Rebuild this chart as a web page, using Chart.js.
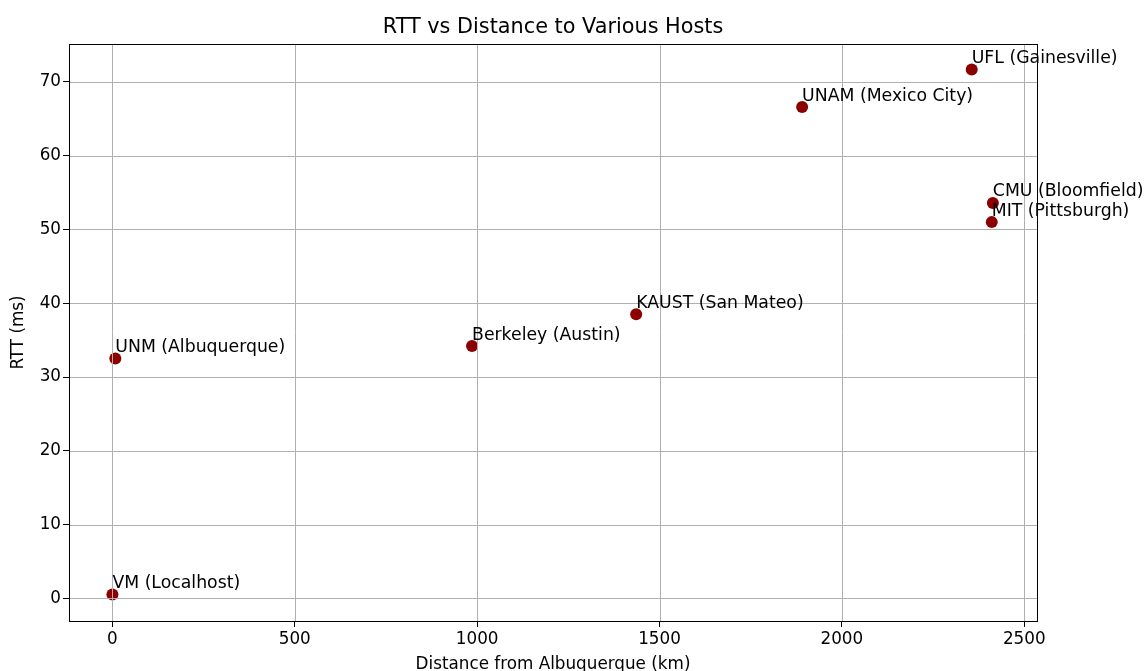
<!DOCTYPE html>
<html>
<head>
<meta charset="utf-8">
<script src="https://cdn.jsdelivr.net/npm/chart.js@4.4.1/dist/chart.umd.min.js"></script>
<style>
  body { margin: 0; background: #fff; }
  #wrap { width: 1145px; height: 671px; position: relative; }
</style>
</head>
<body>
<div id="wrap"><canvas id="myChart"></canvas></div>
<script>
// host labels, distance (km) and round trip time (ms)
const hosts = ['VM (Localhost)', 'UNM (Albuquerque)', 'Berkeley (Austin)', 'KAUST (San Mateo)',
               'UNAM (Mexico City)', 'UFL (Gainesville)', 'CMU (Bloomfield)', 'MIT (Pittsburgh)'];
const distances = [0, 8, 986, 1436, 1891, 2356, 2414, 2411];
const rtts = [0.5, 32.5, 34.2, 38.5, 66.6, 71.7, 53.6, 51.0];

const xTicks = [0, 500, 1000, 1500, 2000, 2500];
const yTicks = [0, 10, 20, 30, 40, 50, 60, 70];

const FONT = 'DejaVu Sans';
const gridColor = '#b0b0b0';

// matplotlib draws the grid over the scatter dots, so draw it after the points
const overlay = {
    id: 'overlay',
    afterDatasetsDraw(chart) {
        const ctx = chart.ctx;
        const area = chart.chartArea;
        const xs = chart.scales.x;
        const ys = chart.scales.y;
        ctx.save();
        ctx.strokeStyle = gridColor;
        ctx.lineWidth = 1;
        xTicks.forEach(v => {
            const px = Math.round(xs.getPixelForValue(v)) + 0.5;
            ctx.beginPath();
            ctx.moveTo(px, area.top);
            ctx.lineTo(px, area.bottom);
            ctx.stroke();
        });
        yTicks.forEach(v => {
            const py = Math.round(ys.getPixelForValue(v)) + 0.5;
            ctx.beginPath();
            ctx.moveTo(area.left, py);
            ctx.lineTo(area.right, py);
            ctx.stroke();
        });

        // frame around the plot
        ctx.strokeStyle = '#000';
        ctx.strokeRect(Math.round(area.left) + 0.5, Math.round(area.top) + 0.5,
            Math.round(area.right - area.left), Math.round(area.bottom - area.top));

        // point labels
        ctx.fillStyle = '#000';
        ctx.font = '17.3px "' + FONT + '"';
        ctx.textAlign = 'left';
        ctx.textBaseline = 'alphabetic';
        hosts.forEach((name, i) => {
            const px = xs.getPixelForValue(distances[i]);
            const py = ys.getPixelForValue(rtts[i]);
            ctx.fillText(name, px, py - 6.5);
        });

        // title centred over the plot area
        ctx.font = '20.8px "' + FONT + '"';
        ctx.textAlign = 'center';
        ctx.fillText('RTT vs Distance to Various Hosts', (area.left + area.right) / 2, 32.5);
        ctx.restore();
    }
};

const ctx = document.getElementById('myChart').getContext('2d');
new Chart(ctx, {
    type: 'scatter',
    data: {
        datasets: [{
            label: 'RTT',
            data: distances.map((d, i) => ({ x: d, y: rtts[i] })),
            backgroundColor: '#8b0000',
            borderColor: '#8b0000',
            borderWidth: 0,
            pointRadius: 6,
            pointHoverRadius: 6
        }]
    },
    options: {
        responsive: true,
        maintainAspectRatio: false,
        animation: false,
        layout: { padding: { top: 44, right: 108, left: 0, bottom: 0 } },
        plugins: {
            legend: { display: false },
            tooltip: { enabled: false },
            title: { display: false }
        },
        scales: {
            x: {
                type: 'linear',
                min: -119,
                max: 2535,
                afterBuildTicks: scale => { scale.ticks = xTicks.map(v => ({ value: v })); },
                afterFit: scale => { scale.height = 50; },
                ticks: {
                    color: '#000',
                    font: { family: FONT, size: 16.8 },
                    padding: 3,
                    maxRotation: 0,
                    autoSkip: false,
                    callback: v => String(v)
                },
                grid: { drawOnChartArea: false, tickColor: '#000', tickLength: 6, lineWidth: 1 },
                border: { color: '#000' },
                title: {
                    display: true,
                    text: 'Distance from Albuquerque (km)',
                    color: '#000',
                    font: { family: FONT, size: 16.8 },
                    padding: { top: 0, bottom: -4 }
                }
            },
            y: {
                type: 'linear',
                min: -3.08,
                max: 75.15,
                afterBuildTicks: scale => { scale.ticks = yTicks.map(v => ({ value: v })); },
                afterFit: scale => { scale.width = 69; },
                ticks: {
                    color: '#000',
                    font: { family: FONT, size: 16.8 },
                    padding: 2,
                    autoSkip: false,
                    callback: v => String(v)
                },
                grid: { drawOnChartArea: false, tickColor: '#000', tickLength: 6, lineWidth: 1 },
                border: { color: '#000' },
                title: {
                    display: true,
                    text: 'RTT (ms)',
                    color: '#000',
                    font: { family: FONT, size: 16.8 },
                    padding: { top: 9, bottom: 0 }
                }
            }
        }
    },
    plugins: [overlay]
});
</script>
</body>
</html>
